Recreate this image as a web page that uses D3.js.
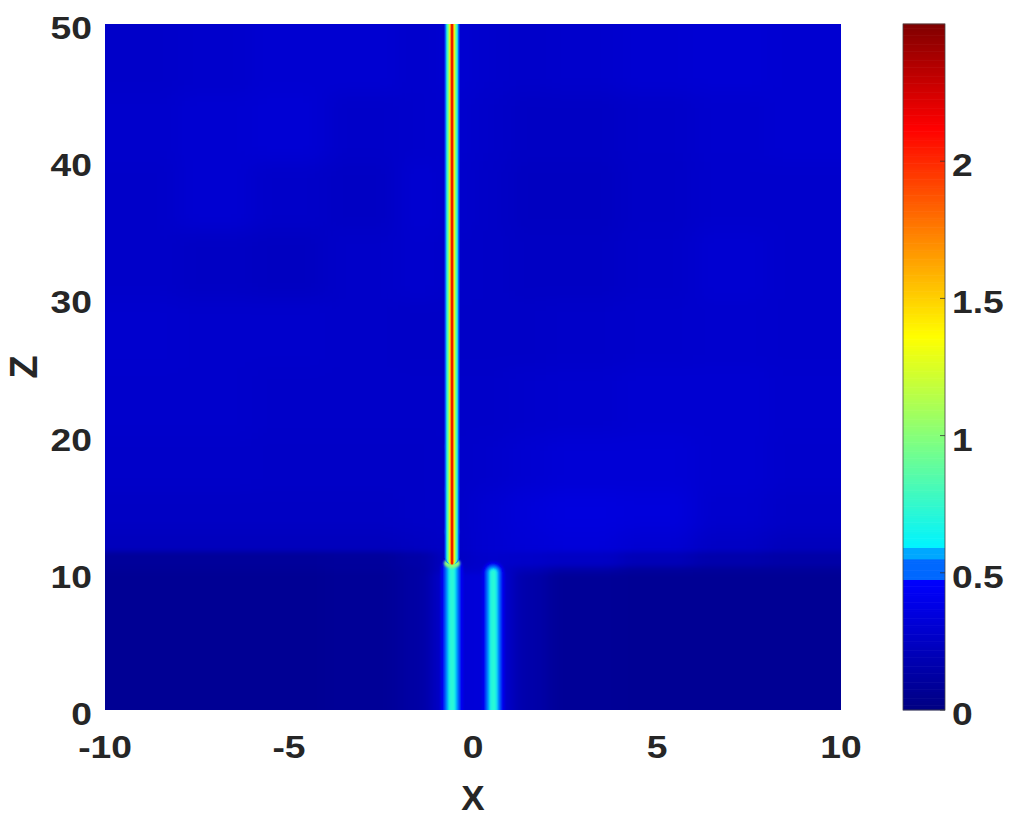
<!DOCTYPE html>
<html><head><meta charset="utf-8">
<script src="https://cdn.jsdelivr.net/npm/d3@7"></script>
<style>
body{margin:0;background:#fff;}
text{font-family:"Liberation Sans",Arial,sans-serif;font-weight:bold;fill:#262626;}
</style>
</head><body>
<svg id="chart" width="1010" height="819"></svg>
<script>
// ---------- data ----------
const xTicks = [-10, -5, 0, 5, 10];
const zTicks = [0, 10, 20, 30, 40, 50];
const cTicks = [0, 0.5, 1, 1.5, 2];
const xLabel = "X";
const zLabel = "Z";

// background field: band edges and band values (rows from z=0 upward)
const xEdges = [-10, -8, -6, -4, -2, -1, 0, 1, 2, 4, 6, 8, 10];
const zEdges = [0, 5, 10, 10.5, 11.5, 13, 16, 20, 25, 30, 35, 40, 45, 50];
const lowerRows = 4; // rows below z = 11.5 (dark input region)
const bgRow0  = [0.07,0.07,0.07,0.08,0.13,0.32,0.33,0.15,0.08,0.07,0.07,0.07];
const bgRow1  = [0.07,0.07,0.07,0.08,0.13,0.32,0.33,0.15,0.08,0.07,0.07,0.07];
const bgRow2  = [0.08,0.08,0.08,0.09,0.13,0.27,0.29,0.2,0.14,0.1,0.09,0.09];
const bgRow3  = [0.09,0.09,0.09,0.1,0.14,0.25,0.28,0.27,0.25,0.2,0.16,0.14];
const bgRow4  = [0.22,0.22,0.22,0.22,0.24,0.26,0.3,0.32,0.33,0.3,0.25,0.22];
const bgRow5  = [0.25,0.25,0.25,0.25,0.26,0.27,0.3,0.33,0.35,0.34,0.29,0.26];
const bgRow6  = [0.27,0.27,0.26,0.26,0.26,0.27,0.28,0.3,0.32,0.32,0.3,0.28];
const bgRow7  = [0.28,0.28,0.27,0.27,0.27,0.27,0.27,0.28,0.29,0.3,0.3,0.29];
const bgRow8  = [0.29,0.28,0.28,0.27,0.26,0.26,0.26,0.26,0.27,0.28,0.29,0.28];
const bgRow9  = [0.27,0.25,0.24,0.27,0.29,0.27,0.26,0.25,0.25,0.27,0.3,0.28];
const bgRow10 = [0.27,0.3,0.27,0.25,0.3,0.28,0.26,0.24,0.24,0.26,0.28,0.28];
const bgRow11 = [0.28,0.3,0.31,0.27,0.28,0.29,0.27,0.25,0.25,0.27,0.29,0.3];
const bgRow12 = [0.27,0.28,0.3,0.3,0.28,0.3,0.28,0.27,0.28,0.3,0.31,0.3];
const bgValues = [bgRow0,bgRow1,bgRow2,bgRow3,bgRow4,bgRow5,bgRow6,bgRow7,bgRow8,bgRow9,bgRow10,bgRow11,bgRow12];

// two input waveguides
const guideX = [-0.57, 0.55];
const guideTop = [10.6, 10.3];
const guideOffsets = [0.3, 0.2, 0.14, 0.1, 0.06];
const guideValues = [0.42, 0.5, 0.56, 0.66, 0.72];

// output beam
const beamX = -0.57;
const beamZ = [10.6, 50];
const beamOffsets = [0.2, 0.155, 0.115, 0.075, 0.045, 0.02];
const beamValues = [0.55, 0.75, 1.0, 1.4, 1.8, 2.2];
const nodeZ = [10.7, 13.0, 16.1, 19.2];
const nodeValues = [1.0, 0.7, 0.62, 0.6];
const nodeWidth = [0.22, 0.17, 0.16, 0.16];

// colour map (modified jet)
const cmapStops  = [0, 0.474, 0.4741, 0.551, 0.5511, 0.595, 0.5951, 0.98, 1.36, 2.12, 2.5];
const cmapColors = ["#000082","#0000ff","#0068ff","#0068ff","#00a8ff","#00a8ff","#00f4ff","#80ff80","#ffff00","#ff0000","#800000"];
const cRange = [0, 2.5];

// ---------- drawing ----------
const svg = d3.select("#chart");
const plot = {left:105, right:841, top:24, bottom:710};
const cbar = {left:903, right:945, top:24, bottom:710};

const x = d3.scaleLinear().domain([-10,10]).range([plot.left, plot.right]);
const y = d3.scaleLinear().domain([0,50]).range([plot.bottom, plot.top]);
const cy = d3.scaleLinear().domain(cRange).range([cbar.bottom, cbar.top]);
const color = d3.scaleLinear().domain(cmapStops).range(cmapColors).clamp(true);

const defs = svg.append("defs");
defs.append("clipPath").attr("id","clip").append("rect")
  .attr("x",plot.left).attr("y",plot.top)
  .attr("width",plot.right-plot.left).attr("height",plot.bottom-plot.top);
function blur(id, sd){
  defs.append("filter").attr("id",id).attr("x","-30%").attr("y","-30%").attr("width","160%").attr("height","160%")
    .append("feGaussianBlur").attr("stdDeviation",sd);
}
blur("upblur","12 9");
blur("lowblur","9 2.5");
blur("gblur","1.3");
blur("bblur","0.7");

const clipG = svg.append("g").attr("clip-path","url(#clip)");

// background cells
const cells = [];
bgValues.forEach((row,i)=>row.forEach((v,j)=>cells.push({i,j,v})));
const ext = 40;
const nR = zEdges.length-1, nC = xEdges.length-1;
function cellRects(g, data, bottomExt){
  g.selectAll("rect").data(data).join("rect")
    .attr("x", d => x(xEdges[d.j]) - (d.j===0?ext:0) - 0.5)
    .attr("width", d => x(xEdges[d.j+1]) - x(xEdges[d.j]) + (d.j===0?ext:0) + (d.j===nC-1?ext:0) + 1)
    .attr("y", d => y(zEdges[d.i+1]) - (d.i===nR-1?ext:0) - 0.5)
    .attr("height", d => y(zEdges[d.i]) - y(zEdges[d.i+1]) + (d.i===bottomExt?(y(0)-y(zEdges[d.i])+ext):0) + (d.i===nR-1?ext:0) + 1)
    .attr("fill", d => color(d.v));
}
cellRects(clipG.append("g").attr("filter","url(#upblur)"), cells.filter(d=>d.i>=lowerRows), lowerRows);
cellRects(clipG.append("g").attr("filter","url(#lowblur)"), cells.filter(d=>d.i<lowerRows), 0);

// waveguides
const guides = [];
guideX.forEach((gx,g)=>guideOffsets.forEach((o,k)=>guides.push({gx, top:guideTop[g], o, v:guideValues[k]})));
const gG = clipG.append("g").attr("filter","url(#gblur)");
gG.selectAll("rect").data(guides).join("rect")
  .attr("x", d => x(d.gx - d.o))
  .attr("width", d => x(d.gx + d.o) - x(d.gx - d.o))
  .attr("y", d => y(d.top) - (x(d.gx + d.o) - x(d.gx - d.o))/2 + 4)
  .attr("height", d => y(0) - y(d.top) + 40)
  .attr("rx", d => (x(d.gx + d.o) - x(d.gx - d.o))/2)
  .attr("fill", d => color(d.v));

// beam nodes
const nG = clipG.append("g").attr("filter","url(#gblur)");
nG.selectAll("ellipse").data(nodeZ.map((z,i)=>({z, v:nodeValues[i], w:nodeWidth[i]}))).join("ellipse")
  .attr("cx", x(beamX))
  .attr("cy", d => y(d.z))
  .attr("rx", d => x(beamX + d.w) - x(beamX))
  .attr("ry", 5)
  .attr("fill", d => color(d.v));

// beam
const bG = clipG.append("g").attr("filter","url(#bblur)");
bG.selectAll("rect").data(beamOffsets.map((o,k)=>({o, v:beamValues[k]}))).join("rect")
  .attr("x", d => x(beamX - d.o))
  .attr("width", d => x(beamX + d.o) - x(beamX - d.o))
  .attr("y", y(beamZ[1]) - 20)
  .attr("height", y(beamZ[0]) - y(beamZ[1]) + 20)
  .attr("rx", d => (x(beamX + d.o) - x(beamX - d.o))/2)
  .attr("fill", d => color(d.v));

// stretched text helper
const SX = 1.2;
function label(g, tx, ty, str, size, anchor){
  g.append("text").attr("transform",`translate(${tx},${ty}) scale(${SX},1)`)
    .attr("text-anchor",anchor).style("font-size",size+"px").text(str);
}

// x tick labels
const axG = svg.append("g");
xTicks.forEach(t => label(axG, x(t), 758, String(t), 31, "middle"));
// z tick labels
zTicks.forEach(t => label(axG, 92, y(t)+15, String(t), 31, "end"));
// axis titles
axG.append("text").attr("x", x(0)).attr("y", 810).attr("text-anchor","middle").style("font-size","35px").text(xLabel);
axG.append("text").attr("transform",`translate(37,${(plot.top+plot.bottom)/2}) rotate(-90)`)
  .attr("text-anchor","middle").style("font-size","38px").text(zLabel);

// colorbar
const nSteps = 300;
const dv = (cRange[1]-cRange[0])/nSteps;
const steps = d3.range(nSteps).map(i => cRange[0] + (i+0.5)*dv);
const cG = svg.append("g");
cG.selectAll("rect").data(steps).join("rect")
  .attr("x", cbar.left).attr("width", cbar.right-cbar.left)
  .attr("y", d => cy(d + dv/2) - 0.3)
  .attr("height", d => cy(d - dv/2) - cy(d + dv/2) + 0.6)
  .attr("fill", d => color(d));
cG.append("rect").attr("x",cbar.left).attr("y",cbar.top).attr("width",cbar.right-cbar.left).attr("height",cbar.bottom-cbar.top)
  .attr("fill","none").attr("stroke","#444").attr("stroke-width",0.8);
cG.selectAll("line.tk").data(cTicks).join("line").attr("class","tk")
  .attr("x1",cbar.right-5).attr("x2",cbar.right).attr("y1",d=>cy(d)).attr("y2",d=>cy(d))
  .attr("stroke","#333").attr("stroke-width",0.8);
cTicks.forEach(t => label(cG, 952, cy(t)+15, String(t), 31, "start"));
</script>
</body></html>
